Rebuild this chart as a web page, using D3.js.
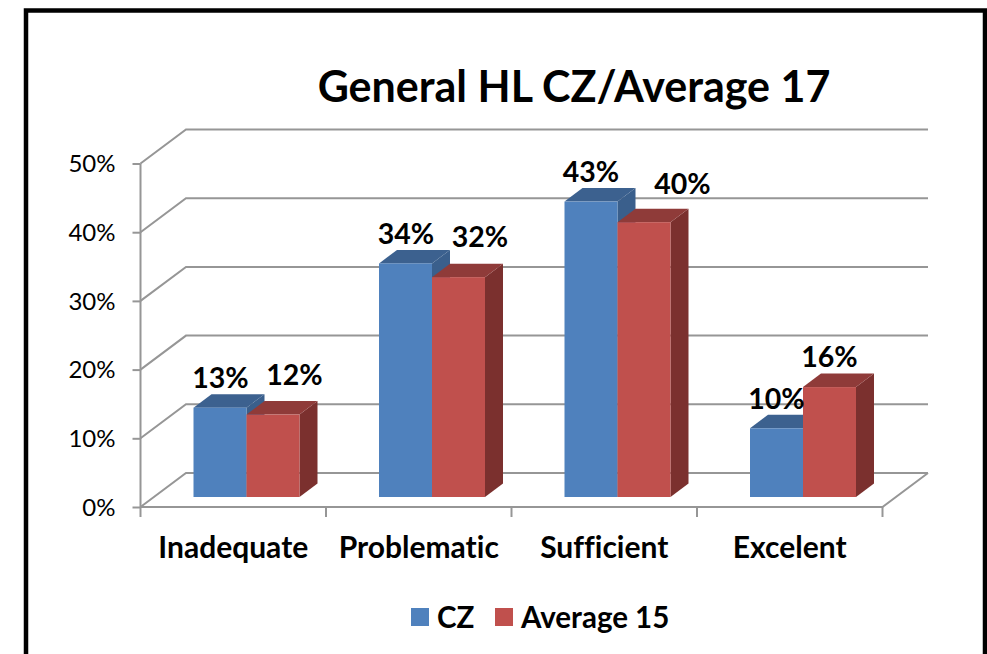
<!DOCTYPE html>
<html>
<head>
<meta charset="utf-8">
<script src="https://cdn.jsdelivr.net/npm/d3@7"></script>
<style>
html, body { margin: 0; padding: 0; background: #fff; overflow: hidden; }
text { font-family: Lato, "Noto Sans", sans-serif; fill: #000; font-variant-ligatures: none; }
</style>
</head>
<body>
<div id="chart"></div>
<script>
var WIDTH = 987
var HEIGHT = 654

var categories = ["Inadequate", "Problematic", "Sufficient", "Excelent"]
var seriesNames = ["CZ", "Average 15"]
var czValues = [13, 34, 43, 10]
var avgValues = [12, 32, 40, 16]
var yTicks = [0, 10, 20, 30, 40, 50]
var title = "General HL CZ/Average 17"

// hand placed label shifts from the top of each bar, CZ then Average per category
var labelNudge = [[0.5, -20], [21.5, -30], [0.5, -19], [21.5, -30], [0, -19.5], [38.5, -28], [0, -19], [0, -20]]

var colors = {
    "CZ": { front: "#4f81bd", top: "#3c618f", side: "#3a5f8c" },
    "Average 15": { front: "#c0504d", top: "#8f3b39", side: "#7b302e" }
}

var svg = d3.select("#chart").append("svg")
    .attr("width", WIDTH)
    .attr("height", HEIGHT)

// frame, open at the bottom
svg.append("path")
    .attr("d", "M26,654V10.5H985V654")
    .attr("fill", "none")
    .attr("stroke", "#000")
    .attr("stroke-width", 4.5)

var x = d3.scaleBand().domain(categories).range([140.5, 882.5])
var y = d3.scaleLinear().domain([0, 50]).range([507, 163.5])

// 3d offsets
var wallX = 45.5, wallY = -34
var barX = 18, barY = -13.5
var floorGap = 10

var grid = svg.append("g")
var gridColor = "#969696"

grid.selectAll(".grid")
    .data(yTicks)
    .enter()
    .append("path")
    .attr("class", "grid")
    .attr("d", function(d) {
        var x0 = x.range()[0]
        return "M" + x0 + "," + y(d) + "L" + (x0 + wallX) + "," + (y(d) + wallY) + "H" + (x.range()[1] + wallX)
    })
    .attr("fill", "none")
    .attr("stroke", gridColor)
    .attr("stroke-width", 2)

// floor front and right edges
grid.append("path")
    .attr("d", "M" + x.range()[0] + "," + y(0) + "H" + x.range()[1] + "l" + wallX + "," + wallY)
    .attr("fill", "none")
    .attr("stroke", gridColor)
    .attr("stroke-width", 2)

// y axis
var yAxis = d3.axisLeft(y)
    .tickValues(yTicks)
    .tickSize(8)
    .tickPadding(6)
    .tickFormat(function(d) { return d + "%" })

var yG = svg.append("g")
    .attr("transform", "translate(" + x.range()[0] + ",0)")
    .call(yAxis)
yG.selectAll("line").attr("stroke", gridColor).attr("stroke-width", 2)
yG.select(".domain").attr("stroke", gridColor).attr("stroke-width", 2).attr("d", "M0," + y(50) + "V" + y(0))
yG.selectAll("text")
    .attr("font-size", 24)
    .attr("font-family", "Lato, sans-serif")
    .attr("x", -25)
    .attr("y", 0.5)
    .attr("dy", "0.32em")

// x axis
var xAxis = d3.axisBottom(x)
    .tickValues(categories)
    .tickSize(0)
    .tickPadding(0)

var xG = svg.append("g")
    .attr("transform", "translate(0," + y(0) + ")")
    .call(xAxis)
xG.select(".domain").remove()
xG.selectAll("text")
    .attr("font-size", 30)
    .attr("font-weight", 700)
    .attr("font-family", "Lato, sans-serif")
    .attr("y", 51)
    .attr("dy", 0)

svg.selectAll(".xtick")
    .data(x.domain().map(function(d) { return x(d) }).concat([x.range()[1]]))
    .enter()
    .append("line")
    .attr("class", "xtick")
    .attr("x1", function(d) { return d })
    .attr("x2", function(d) { return d })
    .attr("y1", y(0))
    .attr("y2", y(0) + 10)
    .attr("stroke", gridColor)
    .attr("stroke-width", 2)

// bars
var rows = []
categories.forEach(function(c, i) {
    rows.push({ cat: c, name: "CZ", value: czValues[i], nudge: labelNudge[i * 2] })
    rows.push({ cat: c, name: "Average 15", value: avgValues[i], nudge: labelNudge[i * 2 + 1] })
})

var barW = 53
var barG = svg.selectAll(".bar")
    .data(rows)
    .enter()
    .append("g")
    .attr("class", "bar")

function left(d) {
    return x(d.cat) + 53 + (d.name == "CZ" ? 0 : barW)
}
function topY(d) {
    return y(d.value) - floorGap
}

barG.append("path")
    .attr("d", function(d) {
        var r = left(d) + barW, b = y(0) - floorGap
        return "M" + r + "," + topY(d) + "l" + barX + "," + barY + "V" + (b + barY) + "L" + r + "," + b + "Z"
    })
    .attr("fill", function(d) { return colors[d.name].side })

barG.append("path")
    .attr("d", function(d) {
        return "M" + left(d) + "," + topY(d) + "l" + barX + "," + barY + "h" + barW + "l" + (-barX) + "," + (-barY) + "Z"
    })
    .attr("fill", function(d) { return colors[d.name].top })

barG.append("rect")
    .attr("x", left)
    .attr("y", topY)
    .attr("width", barW)
    .attr("height", function(d) { return y(0) - y(d.value) })
    .attr("fill", function(d) { return colors[d.name].front })

// value labels
svg.selectAll(".value")
    .data(rows)
    .enter()
    .append("text")
    .attr("class", "value")
    .attr("x", function(d) { return left(d) + barW / 2 + d.nudge[0] })
    .attr("y", function(d) { return topY(d) + d.nudge[1] })
    .attr("text-anchor", "middle")
    .attr("font-size", 28.5)
    .attr("font-weight", 700)
    .text(function(d) { return d.value + "%" })

// title
svg.append("text")
    .attr("x", 574)
    .attr("y", 102)
    .attr("text-anchor", "middle")
    .attr("font-size", 43)
    .attr("font-weight", 700)
    .text(title)

// legend
var legendX = { "CZ": 411, "Average 15": 495 }
var legend = svg.selectAll(".legend")
    .data(seriesNames)
    .enter()
    .append("g")
    .attr("class", "legend")
    .attr("transform", function(d) { return "translate(" + legendX[d] + ",608)" })

legend.append("rect")
    .attr("width", 18)
    .attr("height", 18)
    .attr("fill", function(d) { return colors[d].front })

legend.append("text")
    .attr("x", 26)
    .attr("y", 20)
    .attr("font-size", 29.5)
    .attr("font-weight", 700)
    .text(function(d) { return d })
</script>
</body>
</html>
